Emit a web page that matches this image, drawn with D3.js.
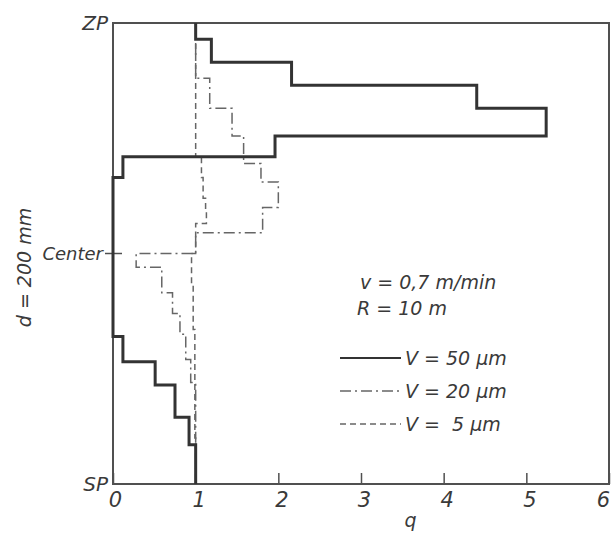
<!DOCTYPE html>
<html>
<head>
<meta charset="utf-8">
<script src="https://cdn.jsdelivr.net/npm/d3@7"></script>
<style>
  body { margin: 0; background: #fff; }
  svg text { font-family: "DejaVu Sans", sans-serif; font-style: italic; fill: #3a3a3a; white-space: pre; }
</style>
</head>
<body>
<svg id="graph"></svg>
<script>
// depth across the strand, mm (SP = 0, ZP = 200), bin edges from ZP down to SP
var edges50 = [ 200, 193, 183, 173, 163, 151, 142, 133, 64, 53, 43, 29, 17, 0 ];
var q50     = [ 1.0, 1.19, 2.16, 4.40, 5.24, 1.96, 0.12, 0, 0.12, 0.51, 0.75, 0.92, 1.0 ];

var edges20 = [ 200, 176, 163, 151, 139, 131, 120, 109, 100, 94, 83, 74, 65, 54, 44, 0 ];
var q20     = [ 1.0, 1.17, 1.44, 1.58, 1.79, 2.0, 1.81, 1.0, 0.28, 0.59, 0.72, 0.81, 0.88, 0.94, 1.0 ];

var edges5  = [ 200, 142, 133, 124, 118, 113, 100, 87, 67, 20, 0 ];
var q5      = [ 1.0, 1.07, 1.09, 1.12, 1.13, 1.0, 0.95, 0.97, 0.99, 1.0 ];

var xTicks = [ 0, 1, 2, 3, 4, 5, 6 ];
var yTickValues = [ 0, 100, 200 ];
var yTickLabels = [ "SP", "Center", "ZP" ];
var legendLabels = [ "V = 50 \u00b5m", "V = 20 \u00b5m", "V =  5 \u00b5m" ];
var conditions = [ "v = 0,7 m/min", "R = 10 m" ];

var svgWidth = 616,
    svgHeight = 534,
    frame = { left: 113, right: 609, top: 23, bottom: 484 };

var svg = d3.select( "svg#graph" )
    .attr( "width", svgWidth )
    .attr( "height", svgHeight );

var x = d3.scaleLinear().domain( [ 0, 6 ] ).range( [ frame.left, frame.right ] );
var y = d3.scaleLinear().domain( [ 0, 200 ] ).range( [ frame.bottom, frame.top ] );

// frame
svg.append( "rect" )
    .attr( "x", frame.left ).attr( "y", frame.top )
    .attr( "width", frame.right - frame.left ).attr( "height", frame.bottom - frame.top )
    .attr( "fill", "none" ).attr( "stroke", "#505050" ).attr( "stroke-width", 2 );

// x axis
var xAxis = svg.append( "g" )
    .attr( "transform", "translate(0," + frame.bottom + ")" )
    .call( d3.axisBottom( x ).tickValues( xTicks ).tickSize( -11 ).tickPadding( 6 ).tickFormat( d3.format( "d" ) ) );
xAxis.select( ".domain" ).remove();
xAxis.selectAll( "line" ).attr( "stroke", "#505050" ).attr( "stroke-width", 1.5 );
xAxis.selectAll( "text" ).attr( "font-size", 21 ).attr( "dy", "0.8em" )
    .attr( "dx", function ( d ) { return d === 6 ? -6 : ( d === 0 ? 2 : 3 ); } );

// y axis
var yAxis = svg.append( "g" )
    .attr( "transform", "translate(" + frame.left + ",0)" )
    .call( d3.axisLeft( y ).tickValues( yTickValues ).tickSize( 0 ).tickPadding( 5 )
        .tickFormat( function ( d, i ) { return yTickLabels[ i ]; } ) );
yAxis.select( ".domain" ).remove();
yAxis.selectAll( "text" ).attr( "font-size", function ( d ) { return d === 100 ? 18 : 20; } )
    .attr( "dx", function ( d ) { return d === 100 ? -5 : 0; } );

svg.append( "line" )
    .attr( "x1", frame.left - 8 ).attr( "x2", frame.left + 9 )
    .attr( "y1", y( 100 ) ).attr( "y2", y( 100 ) )
    .attr( "stroke", "#505050" ).attr( "stroke-width", 1.5 );

svg.append( "text" )
    .attr( "transform", "translate(31," + ( ( frame.top + frame.bottom ) / 2 + 14 ) + ") rotate(-90)" )
    .attr( "text-anchor", "middle" )
    .attr( "font-size", 19 )
    .text( "d = 200 mm" );

svg.append( "text" )
    .attr( "x", x( 3.6 ) ).attr( "y", 527 )
    .attr( "text-anchor", "middle" )
    .attr( "font-size", 19 )
    .text( "q" );

// step profiles
function stepPoints( edges, q ) {
    var pts = [];
    q.forEach( function ( v, i ) {
        pts.push( [ v, edges[ i ] ] );
        pts.push( [ v, edges[ i + 1 ] ] );
    } );
    return pts;
}

var line = d3.line()
    .x( function ( d ) { return x( d[ 0 ] ); } )
    .y( function ( d ) { return y( d[ 1 ] ); } );

var series = [
    { edges: edges5, q: q5, dash: "6,4", width: 1.5, color: "#666" },
    { edges: edges20, q: q20, dash: "11,4,2,4", width: 1.5, color: "#666" },
    { edges: edges50, q: q50, dash: null, width: 3, color: "#333" }
];

svg.append( "g" )
    .selectAll( "path" )
    .data( series )
    .enter()
    .append( "path" )
    .attr( "d", function ( d ) { return line( stepPoints( d.edges, d.q ) ); } )
    .attr( "fill", "none" )
    .attr( "stroke", function ( d ) { return d.color; } )
    .attr( "stroke-width", function ( d ) { return d.width; } )
    .attr( "stroke-dasharray", function ( d ) { return d.dash; } );

// conditions text
svg.selectAll( ".cond" )
    .data( conditions )
    .enter()
    .append( "text" )
    .classed( "cond", true )
    .attr( "x", function ( d, i ) { return i === 0 ? 360 : 357; } )
    .attr( "y", function ( d, i ) { return 289 + i * 26; } )
    .attr( "font-size", 19 )
    .text( function ( d ) { return d; } );

// legend
var legendSeries = [ series[ 2 ], series[ 1 ], series[ 0 ] ];
var legend = svg.selectAll( ".legend" )
    .data( legendSeries )
    .enter()
    .append( "g" )
    .classed( "legend", true )
    .attr( "transform", function ( d, i ) { return "translate(340," + ( 358 + i * 33 ) + ")"; } );

legend.append( "line" )
    .attr( "x1", 0 ).attr( "x2", 61 )
    .attr( "stroke", function ( d ) { return d.color; } )
    .attr( "stroke-width", function ( d, i ) { return i === 0 ? 2 : 1.5; } )
    .attr( "stroke-dasharray", function ( d ) { return d.dash; } );

legend.append( "text" )
    .attr( "x", 65 ).attr( "y", 7 )
    .attr( "font-size", 19 )
    .text( function ( d, i ) { return legendLabels[ i ]; } );
</script>
</body>
</html>
